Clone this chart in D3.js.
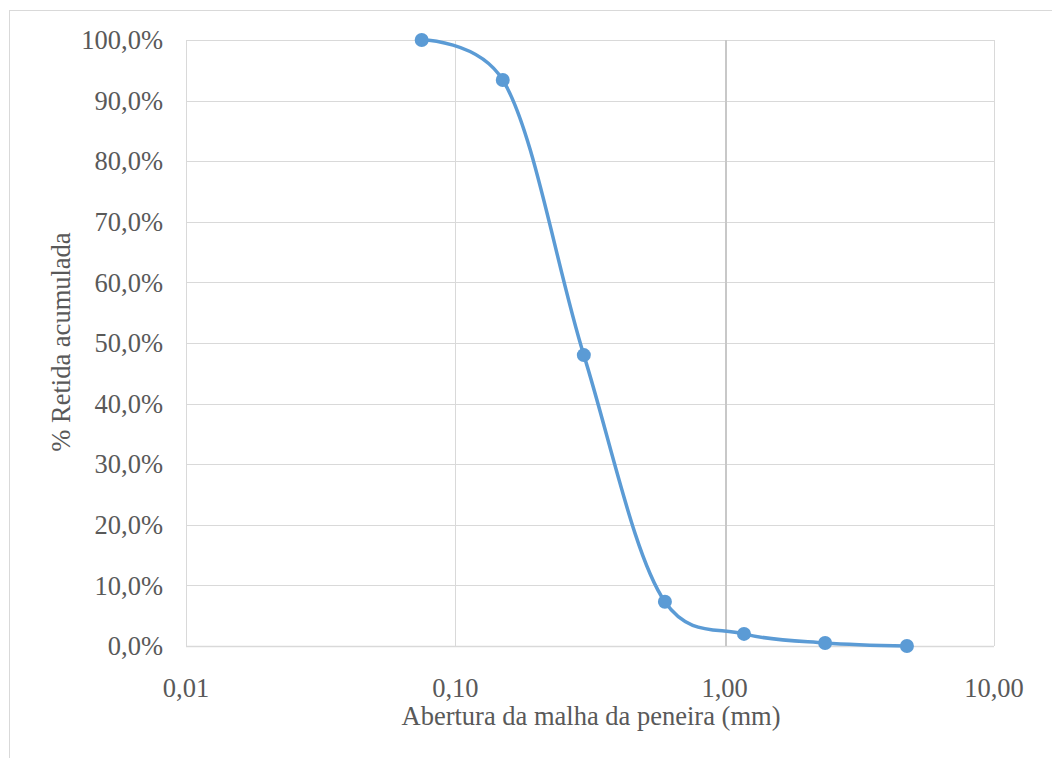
<!DOCTYPE html>
<html><head><meta charset="utf-8">
<script src="https://cdn.jsdelivr.net/npm/d3@7"></script>
<style>body{margin:0;background:#fff}svg{display:block}text{font-family:"Liberation Serif","Times New Roman",serif;fill:#595959}</style>
</head><body><svg id="c" width="1052" height="758"></svg>
<script>
const aberturas = [0.075, 0.15, 0.3, 0.6, 1.18, 2.36, 4.75];
const retida = [100.0, 93.4, 48.0, 7.3, 2.0, 0.5, 0.0];
const xTicks = [0.01, 0.1, 1, 10];
const xTickLabels = ["0,01", "0,10", "1,00", "10,00"];
const yTicks = [0,10,20,30,40,50,60,70,80,90,100];
const xTitle = "Abertura da malha da peneira (mm)";
const yTitle = "% Retida acumulada";

const svg = d3.select("#c");
const L=186, R=994, T=40, B=646;
const x = d3.scaleLog().domain([0.01,10]).range([L,R]);
const y = d3.scaleLinear().domain([0,100]).range([B,T]);
const grid="#d9d9d9";

svg.append("rect").attr("x",9.5).attr("y",10.5).attr("width",1060).attr("height",760)
  .attr("fill","#fff").attr("stroke","#d9d9d9");

svg.append("g").selectAll("line").data(yTicks).join("line")
  .attr("x1",L).attr("x2",R).attr("y1",d=>Math.round(y(d))+0.5).attr("y2",d=>Math.round(y(d))+0.5)
  .attr("stroke",grid).attr("stroke-width",d=>d===0?1.5:1);
svg.append("g").selectAll("line").data(xTicks).join("line")
  .attr("x1",(d,i)=>Math.round(x(d))+(i===2?1:0.5)).attr("x2",(d,i)=>Math.round(x(d))+(i===2?1:0.5)).attr("y1",T).attr("y2",B)
  .attr("stroke",(d,i)=>i===2?"#c8c8c8":grid).attr("stroke-width",(d,i)=>i===2?2:1);

svg.append("g").selectAll("text").data(yTicks).join("text")
  .attr("x",163).attr("y",d=>y(d)).attr("dy","0.35em").attr("text-anchor","end")
  .attr("font-size",26.5).text(d=>d3.format(".1f")(d).replace(".",",")+"%");
svg.append("g").selectAll("text").data(xTicks).join("text")
  .attr("x",d=>x(d)).attr("y",697).attr("text-anchor","middle")
  .attr("font-size",26.5).text((d,i)=>xTickLabels[i]);

svg.append("text").attr("x",591).attr("y",725).attr("text-anchor","middle").attr("font-size",26.5).text(xTitle);
svg.append("text").attr("transform","translate(70,342) rotate(-90)").attr("text-anchor","middle").attr("font-size",26.5).text(yTitle);

const pts = aberturas.map((a,i)=>[x(a),y(retida[i])]);
svg.append("path").attr("d",d3.line().curve(d3.curveCatmullRom.alpha(0.2))(pts))
  .attr("fill","none").attr("stroke","#5b9bd5").attr("stroke-width",3.5);
svg.append("g").selectAll("circle").data(pts).join("circle")
  .attr("cx",d=>d[0]).attr("cy",d=>d[1]).attr("r",7).attr("fill","#5b9bd5");
</script></body></html>
